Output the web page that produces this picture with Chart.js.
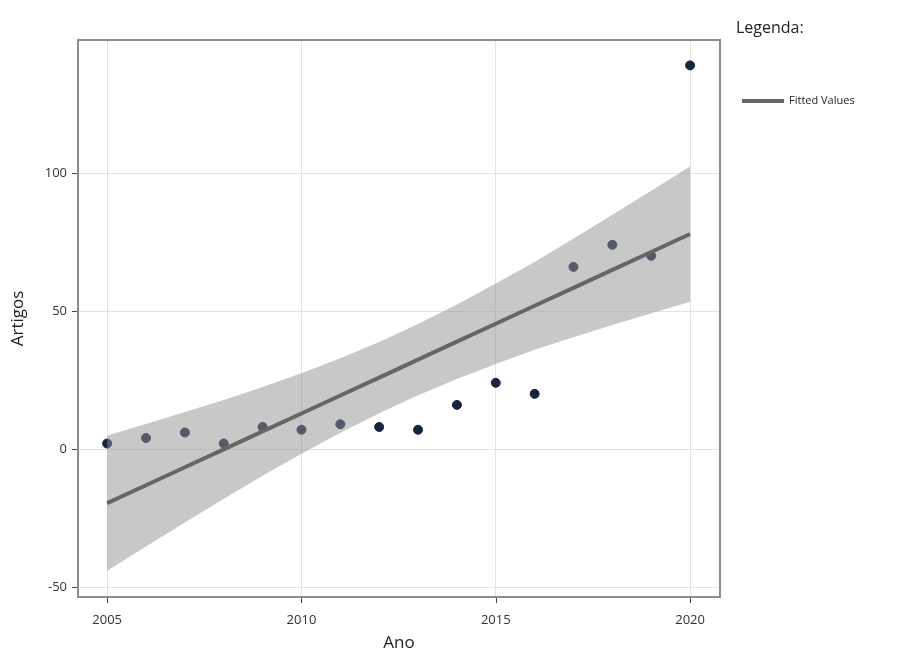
<!DOCTYPE html>
<html>
<head>
<meta charset="utf-8">
<script src="https://cdn.jsdelivr.net/npm/chart.js@4"></script>
<style>
  html, body { margin: 0; padding: 0; background: #fff; }
  #wrap { width: 897px; height: 655px; }
</style>
</head>
<body>
<div id="wrap"><canvas id="chart" width="897" height="655"></canvas></div>
<script>
// anos e artigos publicados
const years    = [2005, 2006, 2007, 2008, 2009, 2010, 2011, 2012, 2013, 2014, 2015, 2016, 2017, 2018, 2019, 2020];
const articles = [2, 4, 6, 2, 8, 7, 9, 8, 7, 16, 24, 20, 66, 74, 70, 139];

// reta ajustada e intervalo de confiança
const fitted   = [-19.6, -13.1, -6.6, -0.1, 6.4, 12.9, 19.4, 25.9, 32.4, 38.9, 45.4, 51.9, 58.4, 64.9, 71.4, 77.9];
const ciUpper  = [4.9, 9.1, 13.4, 17.8, 22.5, 27.5, 32.9, 38.8, 45.3, 52.4, 60.0, 67.8, 76.3, 84.9, 93.6, 102.4];
const ciLower  = [-44.1, -35.3, -26.6, -18.0, -9.7, -1.7, 5.9, 13.0, 19.5, 25.4, 30.8, 36.0, 40.5, 44.9, 49.2, 53.4];

const xTicks = [2005, 2010, 2015, 2020];
const yTicks = [-50, 0, 50, 100];

const FONT = "'Open Sans', 'DejaVu Sans', sans-serif";

const toXY = vals => years.map((yr, i) => ({ x: yr, y: vals[i] }));

// moldura do painel, marcas dos eixos + legenda à direita
const panelPlugin = {
  id: 'panel',
  afterDatasetsDraw(chart) {
    const { ctx, chartArea: a, scales } = chart;
    ctx.save();
    ctx.strokeStyle = '#8c8c8c';
    ctx.lineWidth = 2;
    ctx.strokeRect(a.left, a.top, a.right - a.left, a.bottom - a.top);
    ctx.strokeStyle = '#444';
    ctx.lineWidth = 1;
    ctx.beginPath();
    xTicks.forEach(v => {
      const px = Math.round(scales.x.getPixelForValue(v)) + 0.5;
      ctx.moveTo(px, a.bottom + 1);
      ctx.lineTo(px, a.bottom + 6);
    });
    yTicks.forEach(v => {
      const py = Math.round(scales.y.getPixelForValue(v)) + 0.5;
      ctx.moveTo(a.left - 1, py);
      ctx.lineTo(a.left - 6, py);
    });
    ctx.stroke();
    ctx.restore();
  },
  afterDraw(chart) {
    const { ctx } = chart;
    ctx.save();
    ctx.fillStyle = '#222';
    ctx.textBaseline = 'middle';
    ctx.font = '16px ' + FONT;
    ctx.fillText('Legenda:', 736, 28);
    ctx.strokeStyle = '#666';
    ctx.lineWidth = 4;
    ctx.beginPath();
    ctx.moveTo(742, 101);
    ctx.lineTo(784, 101);
    ctx.stroke();
    ctx.font = '11px ' + FONT;
    ctx.fillText('Fitted Values', 789, 101);
    ctx.restore();
  }
};

new Chart(document.getElementById('chart'), {
  type: 'scatter',
  data: {
    datasets: [
      {
        label: 'lower',
        type: 'line',
        data: toXY(ciLower),
        borderWidth: 0,
        borderColor: 'rgba(0,0,0,0)',
        pointRadius: 0,
        fill: false,
        order: 2
      },
      {
        label: 'upper',
        type: 'line',
        data: toXY(ciUpper),
        borderWidth: 0,
        borderColor: 'rgba(0,0,0,0)',
        backgroundColor: 'rgba(145,145,145,0.5)',
        pointRadius: 0,
        fill: 0,
        order: 1
      },
      {
        label: 'Fitted Values',
        type: 'line',
        data: toXY(fitted),
        borderColor: '#666666',
        borderWidth: 4,
        pointRadius: 0,
        fill: false,
        order: 0
      },
      {
        label: 'Artigos',
        data: toXY(articles),
        backgroundColor: '#17233f',
        borderColor: '#17233f',
        pointRadius: 4.5,
        order: 3
      }
    ]
  },
  options: {
    responsive: false,
    animation: false,
    layout: { padding: { left: 0, right: 177, top: 40, bottom: 0 } },
    plugins: { legend: { display: false }, tooltip: { enabled: false } },
    scales: {
      x: {
        type: 'linear',
        min: 2004.25,
        max: 2020.77,
        afterBuildTicks: s => { s.ticks = xTicks.map(v => ({ value: v })); },
        afterFit: s => { s.height = 58; },
        grid: { color: '#e2e2e2', drawTicks: true, tickColor: 'rgba(0,0,0,0)', tickLength: 6, lineWidth: 1 },
        border: { display: false },
        ticks: { color: '#333', font: { family: FONT, size: 13 }, padding: 9, maxRotation: 0, callback: v => String(v) },
        title: { display: true, text: 'Ano', color: '#222', font: { family: FONT, size: 17 }, padding: { top: 0, bottom: 2 } }
      },
      y: {
        min: -53.6,
        max: 148.2,
        afterBuildTicks: s => { s.ticks = yTicks.map(v => ({ value: v })); },
        afterFit: s => { s.width = 78; },
        grid: { color: '#e2e2e2', drawTicks: true, tickColor: 'rgba(0,0,0,0)', tickLength: 6, lineWidth: 1 },
        border: { display: false },
        ticks: { color: '#333', font: { family: FONT, size: 13 }, padding: 5, callback: v => String(v) },
        title: { display: true, text: 'Artigos', color: '#222', font: { family: FONT, size: 17 }, padding: { top: 8, bottom: 0 } }
      }
    }
  },
  plugins: [panelPlugin]
});
</script>
</body>
</html>
